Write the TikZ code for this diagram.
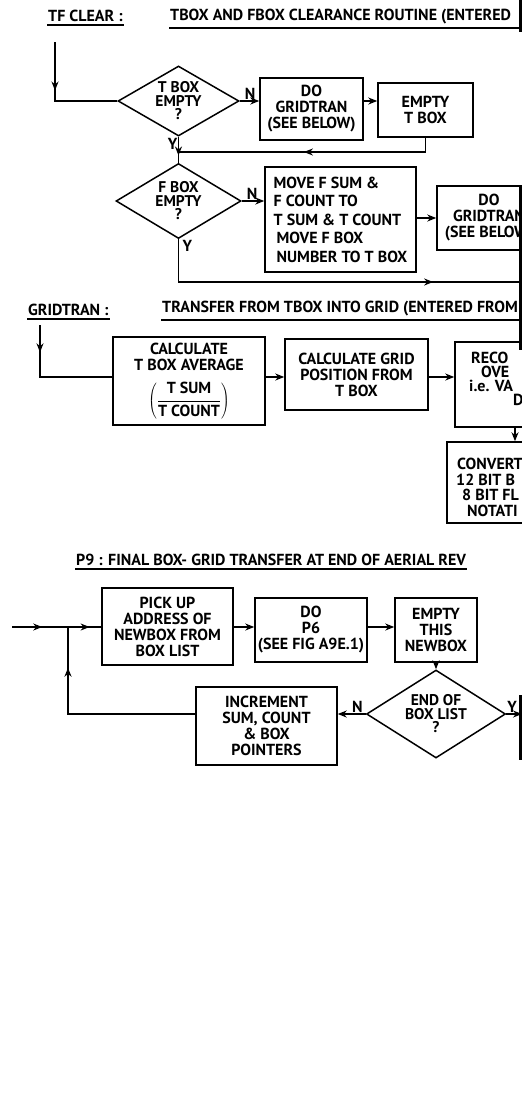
\documentclass[tikz,border=0pt]{standalone}
\usepackage{fontspec}
\setmainfont{PT Sans}
\usetikzlibrary{shapes.geometric,arrows.meta,decorations.markings}
\newcommand{\lett}{\fontsize{16}{16}\selectfont\bfseries}
\newcommand{\dlett}{\fontsize{15.5}{13.5}\selectfont\bfseries}

\begin{document}
\begin{tikzpicture}[x=1pt, y=-1pt, >={Stealth[length=9pt,width=7pt]},
  box/.style={draw, line width=1.5pt, align=center, font=\lett, inner sep=2pt},
  decide/.style={diamond, draw, line width=1.5pt, align=center, font=\dlett, inner sep=0pt, aspect=1.7},
  wire/.style={line width=1.5pt},
  midarrow/.style={postaction={decorate}, decoration={markings, mark=at position #1 with {\arrow{>}}}},
  lbl/.style={font=\lett, inner sep=1pt},
  hdr/.style={font=\lett, anchor=south west, inner xsep=1pt, inner ysep=3.5pt}]

  % --- 0. page ---
  \path[use as bounding box] (0,0) rectangle (522,1120);
  \fill[white] (0,0) rectangle (522,1120);
  \clip (0,0) rectangle (522,1120);
  \coordinate (edge) at (522,0);

  % --- 1. TF CLEAR ---
  \node[hdr] (tfclr) at (47,25) {TF CLEAR :};
  \node[hdr] (tftitle) at (169,28) {TBOX AND FBOX CLEARANCE ROUTINE (ENTERED};
  \draw[wire] (tfclr.south west) -- (tfclr.south east);
  \draw[wire] (tftitle.south west) -- (tftitle.south west -| edge);

  \coordinate (tfin) at (55,42);
  \node[decide, minimum width=121pt, minimum height=70pt] (tempty) at (178.5,101) {T BOX\\EMPTY\\?};
  \node[box, minimum width=103pt, minimum height=62pt] (grid1) at (311.5,109) {DO\\GRIDTRAN\\(SEE BELOW)};
  \node[box, minimum width=95pt, minimum height=54pt] (tclr) at (425.5,110) {EMPTY\\T BOX};
  \node[decide, minimum width=125pt, minimum height=75pt] (fempty) at (178.5,201) {F BOX\\EMPTY\\?};
  \node[box, align=left, font=\fontsize{16}{18.5}\selectfont\bfseries, minimum width=151pt, minimum height=105pt] (fmove) at (340.5,219.5)
    {MOVE F SUM \&\\F COUNT TO\\T SUM \& T COUNT\\\hspace{3pt}MOVE F BOX\\\hspace{3pt}NUMBER TO T BOX};
  \node[box, minimum width=104pt, minimum height=64pt] (grid2) at (489,218) {DO\\GRIDTRAN\\(SEE BELOW)};

  \node[lbl, anchor=south west] (tno) at ([xshift=4pt]tempty.east) {N};
  \node[lbl, anchor=north east] (tyes) at (tempty.south) {Y};
  \node[lbl, anchor=south west] (fno) at ([xshift=4pt]fempty.east) {N};
  \node[lbl, anchor=north west] (fyes) at ([xshift=3pt]fempty.south) {Y};

  \coordinate (tjoin) at (178.5,152);
  \coordinate (fout) at (522,282);
  \draw[wire, midarrow=0.4] (tfin) |- (tempty.west);
  \draw[wire, ->] (tempty.east) -- (tempty.east -| grid1.west);
  \draw[wire, ->] (tempty.east -| grid1.east) -- (tempty.east -| tclr.west);
  \draw[wire, midarrow=0.52] (tclr.south) |- (tjoin);
  \draw[wire, midarrow=0.72] (tempty.south) -- (fempty.north);
  \draw[wire, ->] (fempty.east) -- (fempty.east -| fmove.west);
  \draw[wire, ->] (grid2.west -| fmove.east) -- (grid2.west);
  \draw[wire, midarrow=0.77] (fempty.south) |- (fout);

  % right edge of the sheet
  \draw[line width=3pt] (520,0) -- (520,32);
  \draw[line width=3pt] (520,185) -- (520,350);
  \draw[line width=3pt] (520,695) -- (520,760);

  % --- 2. GRIDTRAN ---
  \node[hdr] (gtlbl) at (27,319) {GRIDTRAN :};
  \node[hdr] (gttitle) at (161,320) {TRANSFER FROM TBOX INTO GRID (ENTERED FROM};
  \draw[wire] (gtlbl.south west) -- (gtlbl.south east);
  \draw[wire] (gttitle.south west) -- (gttitle.south west -| edge);

  \coordinate (gtin) at (40,325);
  \coordinate (row2) at (0,377);
  \node[box, minimum width=152pt, minimum height=88pt] (tavg) at (189,381)
    {CALCULATE\\T BOX AVERAGE\\[10pt]$\displaystyle\left(\frac{\mbox{T SUM}}{\mbox{T COUNT}}\right)$};
  \node[box, minimum width=143pt, minimum height=71pt] (gpos) at (356.5,374.5) {CALCULATE GRID\\POSITION FROM\\T BOX};
  \node[box, minimum width=105pt, minimum height=85pt] (ovfl) at (507.5,384.5) {};
  \node[lbl, align=left, anchor=north west, font=\fontsize{16}{13.8}\selectfont\bfseries] (ovtext) at (468,351)
    {\hspace{2pt}RECO\\\hspace{12pt}OVE\\i.e. VA\\\hspace{44pt}D};
  \node[box, minimum width=113pt, minimum height=81pt] (cnv) at (503.5,482.5) {};
  \node[lbl, align=left, anchor=north west, font=\fontsize{16}{15.5}\selectfont\bfseries] (cnvtext) at (455,457)
    {\hspace{1pt}CONVERT\\12 BIT B\\\hspace{6pt}8 BIT FL\\\hspace{11pt}NOTATI};

  \coordinate (ovx) at (515,0);
  \draw[wire, midarrow=0.22] (gtin) |- (tavg.west |- row2);
  \draw[wire, ->] (tavg.east |- row2) -- (gpos.west |- row2);
  \draw[wire, ->] (gpos.east |- row2) -- (ovfl.west |- row2);
  \draw[wire, ->] (ovfl.south -| ovx) -- (cnv.north -| ovx);

  % --- 3. P9 ---
  \node[hdr] (p9title) at (75,569) {P9 : FINAL BOX- GRID TRANSFER AT END OF AERIAL REV};
  \draw[wire] (p9title.south west) -- (p9title.south east);

  \coordinate (p9in) at (12,627);
  \coordinate (p9join) at (68,627);
  \coordinate (row3) at (0,627);
  \node[box, minimum width=131pt, minimum height=77pt] (pick) at (167.5,626.5) {PICK UP\\ADDRESS OF\\NEWBOX FROM\\BOX LIST};
  \node[box, minimum width=112pt, minimum height=64pt] (dop6) at (311,630) {DO\\P6\\(SEE FIG A9E.1)};
  \node[box, minimum width=82pt, minimum height=64pt] (clrnew) at (436,630) {EMPTY\\THIS\\NEWBOX};
  \node[decide, minimum width=139pt, minimum height=88pt] (boxend) at (436,714) {END OF\\BOX LIST\\?};
  \node[box, minimum width=141pt, minimum height=78pt] (incr) at (266.5,726) {INCREMENT\\SUM, COUNT\\\& BOX\\POINTERS};
  \coordinate (p9out) at (522,714);

  \node[lbl, anchor=south east] (eno) at ([xshift=-2pt]boxend.west) {N};
  \node[lbl, anchor=south west] (eyes) at (boxend.east) {Y};

  \draw[wire, midarrow=0.54] (p9in) -- (p9join);
  \draw[wire, midarrow=0.65] (p9join) -- (pick.west |- row3);
  \draw[wire, ->] (pick.east |- row3) -- (dop6.west |- row3);
  \draw[wire, ->] (dop6.east |- row3) -- (clrnew.west |- row3);
  \draw[wire, ->] (clrnew.south) -- (boxend.north);
  \draw[wire, ->] (boxend.east) -- (boxend.east -| p9out);
  \draw[wire, ->] (boxend.west) -- (boxend.west -| incr.east);
  \draw[wire, midarrow=0.81] (boxend.west -| incr.west) -| (p9join);

\end{tikzpicture}
\end{document}
